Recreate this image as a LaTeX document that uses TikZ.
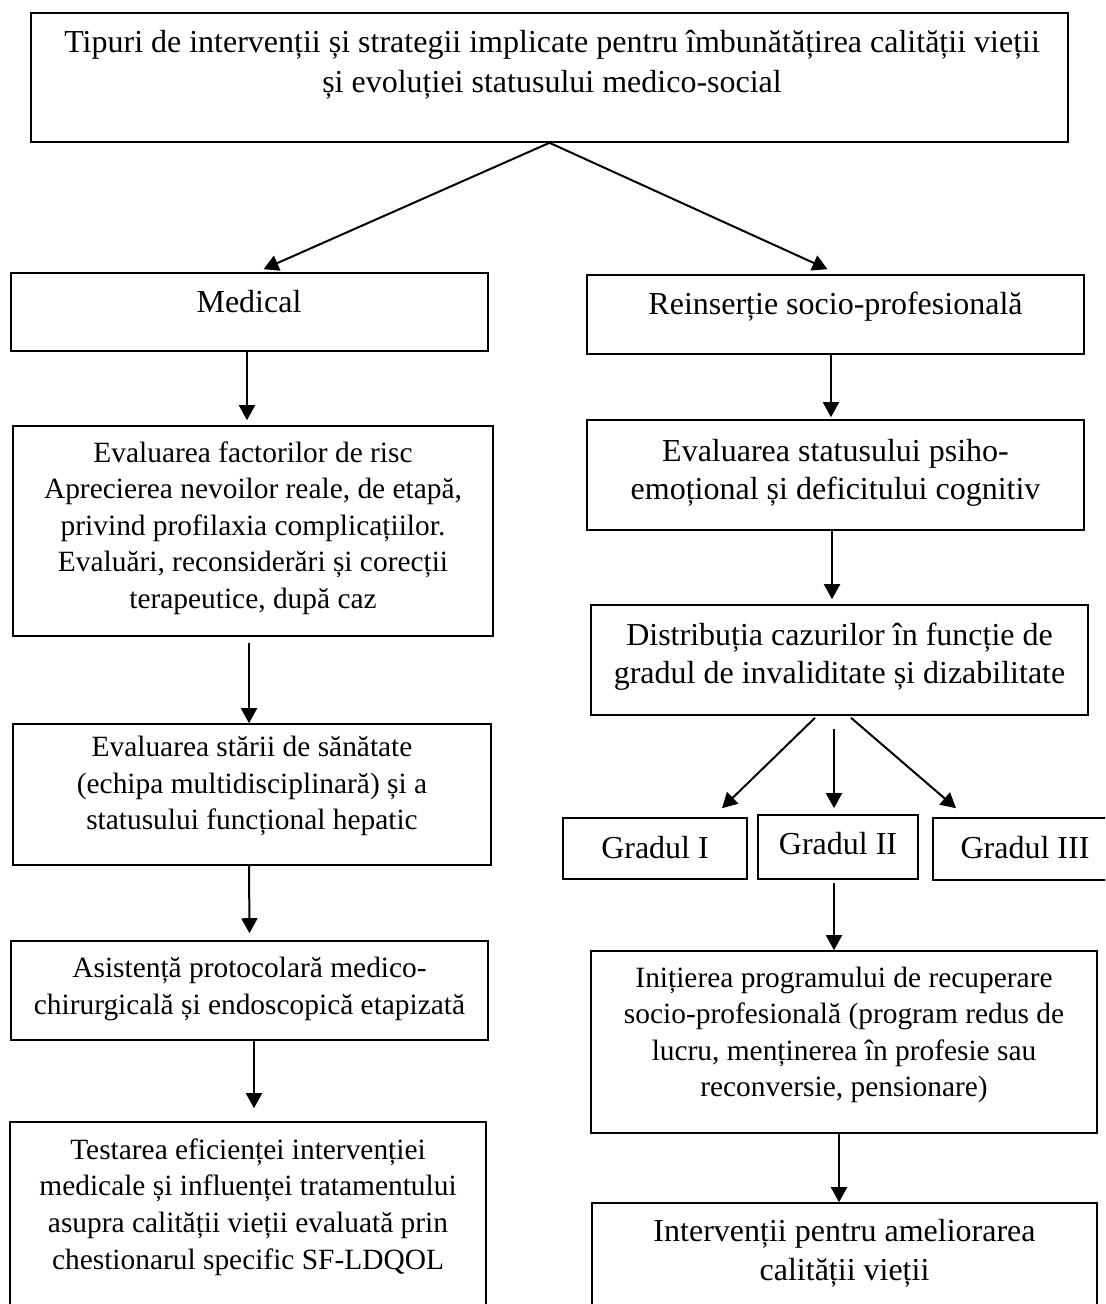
\documentclass[tikz,border=0pt]{standalone}
\usepackage{fontspec}
\setmainfont{Liberation Serif}
\usetikzlibrary{arrows.meta}

\tikzset{
  box/.style={draw=black, line width=0.8pt, rectangle, inner sep=0pt},
  txt/.style={align=center, inner sep=0pt, font=\fontsize{14.7pt}{18.3pt}\selectfont},
  bigtxt/.style={txt, font=\fontsize{16pt}{19pt}\selectfont},
  arr/.style={-{Triangle[length=7.5pt,width=8pt]}, line width=1pt}
}

\begin{document}
\begin{tikzpicture}
[
x=0.5pt, y=-0.5pt
]
\useasboundingbox (0,0) rectangle (1105,1304);
\clip (0,0) rectangle (1105,1304);

% boxes
\node[box, minimum width=518.5pt, minimum height=64.5pt] (top)    at (549.5,77.5)  {};
\node[box, minimum width=238.5pt, minimum height=39pt]   (med)    at (249.5,312)   {};
\node[box, minimum width=248.5pt, minimum height=39.5pt] (reins)  at (835.5,314.5) {};
\node[box, minimum width=240pt,   minimum height=105pt]  (evf)    at (253,531)     {};
\node[box, minimum width=239pt,   minimum height=70.5pt] (evs)    at (252,794.5)   {};
\node[box, minimum width=238.5pt, minimum height=49.5pt] (asist)  at (249.5,990.5) {};
\node[box, minimum width=238pt,   minimum height=99pt]   (test)   at (248,1221)    {};
\node[box, minimum width=248.5pt, minimum height=55pt]   (psi)    at (835.5,475)   {};
\node[box, minimum width=248.5pt, minimum height=55pt]   (distr)  at (839.5,660)   {};
\node[box, minimum width=92pt,    minimum height=30.5pt] (g1)     at (655,848.5)   {};
\node[box, minimum width=80pt,    minimum height=32pt]   (g2)     at (838,847)     {};
\node[box, minimum width=93.5pt,  minimum height=31pt]   (g3)     at (1026.5,849)  {};
\node[box, minimum width=253pt,   minimum height=91pt]   (init)   at (844,1042)    {};
\node[box, minimum width=252.5pt, minimum height=58.5pt] (interv) at (844.5,1261.5) {};

% texts
\node[bigtxt, font=\fontsize{16pt}{20pt}\selectfont] (top-t) at (552,65)
  {Tipuri de intervenții și strategii implicate pentru îmbunătățirea calității vieții\\
   și evoluției statusului medico-social};
\node[bigtxt] (med-t) at (249,302) {Medical};
\node[bigtxt] (reins-t) at (835.5,307) {Reinserție socio-profesională};
\node[txt] (evf-t) at (253,528)
  {Evaluarea factorilor de risc\\
   Aprecierea nevoilor reale, de etapă,\\
   privind profilaxia complicațiilor.\\
   Evaluări, reconsiderări și corecții\\
   terapeutice, după caz};
\node[txt] (evs-t) at (252,786)
  {Evaluarea stării de sănătate\\
   (echipa multidisciplinară) și a\\
   statusului funcțional hepatic};
\node[txt] (asist-t) at (249.5,989)
  {Asistență protocolară medico-\\
   chirurgicală și endoscopică etapizată};
\node[txt] (test-t) at (248,1207)
  {Testarea eficienței intervenției\\
   medicale și influenței tratamentului\\
   asupra calității vieții evaluată prin\\
   chestionarul specific SF-LDQOL};
\node[bigtxt] (psi-t) at (835.5,473)
  {Evaluarea statusului psiho-\\
   emoțional și deficitului cognitiv};
\node[bigtxt] (distr-t) at (839.5,657)
  {Distribuția cazurilor în funcție de\\
   gradul de invaliditate și dizabilitate};
\node[bigtxt] (g1-t) at (655,848) {Gradul I};
\node[bigtxt] (g2-t) at (838,844) {Gradul II};
\node[bigtxt] (g3-t) at (1025,848) {Gradul III};
\node[txt] (init-t) at (844,1035)
  {Inițierea programului de recuperare\\
   socio-profesională (program redus de\\
   lucru, menținerea în profesie sau\\
   reconversie, pensionare)};
\node[bigtxt, font=\fontsize{16pt}{19.5pt}\selectfont] (interv-t) at (844.5,1253)
  {Intervenții pentru ameliorarea\\
   calității vieții};

% arrows
\draw[arr] (top.south) -- ([xshift=7pt, yshift=1.5pt] med.north);
\draw[arr] (top.south) -- ([xshift=-4pt, yshift=2.5pt] reins.north);
\draw[arr] ([xshift=-1.25pt] med.south) -- ([xshift=-3pt, yshift=2.5pt] evf.north);
\draw[arr] ([xshift=-2pt, yshift=-3pt] evf.south) -- ([xshift=-1.5pt] evs.north);
\draw[arr] ([xshift=-1.5pt] evs.south) -- ([yshift=3.5pt] asist.north);
\draw[arr] ([xshift=2.25pt] asist.south) -- ([xshift=3pt, yshift=6.5pt] test.north);
\draw[arr] ([xshift=-2.25pt] reins.south) -- ([xshift=-2.25pt, yshift=1pt] psi.north);
\draw[arr] ([xshift=-1.75pt] psi.south) -- ([xshift=-3.75pt, yshift=2.5pt] distr.north);
\draw[arr] ([xshift=-12.25pt, yshift=-1pt] distr.south) -- ([xshift=33.5pt, yshift=4.5pt] g1.north);
\draw[arr] ([xshift=-2.75pt, yshift=-6.5pt] distr.south) -- ([xshift=-2pt, yshift=3pt] g2.north);
\draw[arr] ([xshift=5.75pt, yshift=-1pt] distr.south) -- ([xshift=-35.25pt, yshift=4.5pt] g3.north);
\draw[arr] ([xshift=-2pt, yshift=-1.5pt] g2.south) -- ([xshift=-5pt] init.north);
\draw[arr] ([xshift=-2.5pt] init.south) -- ([xshift=-2.75pt] interv.north);
\end{tikzpicture}
\end{document}
